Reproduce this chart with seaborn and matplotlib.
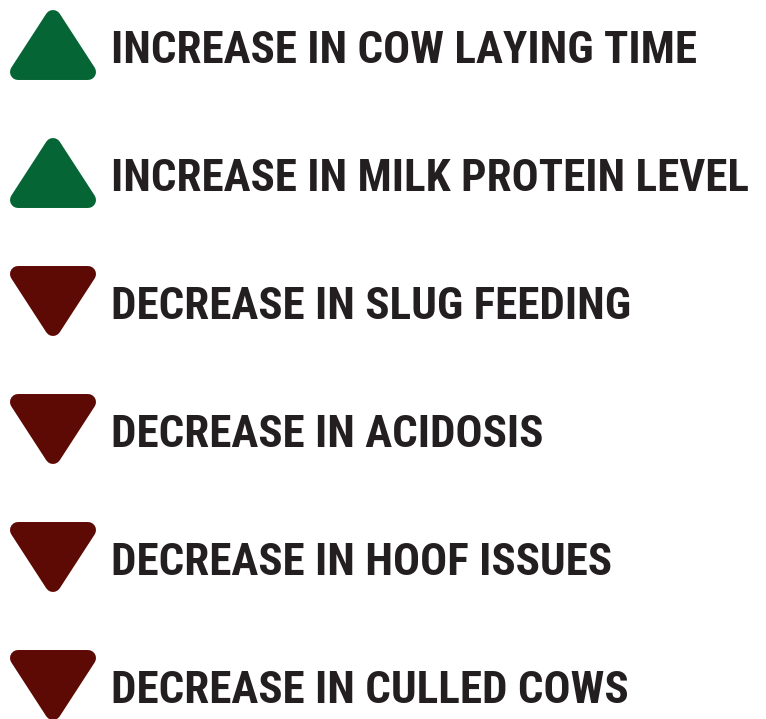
import matplotlib
matplotlib.use("Agg")
import matplotlib.pyplot as plt
from matplotlib.path import Path
from matplotlib.markers import MarkerStyle
import pandas as pd
import seaborn as sns

# chart content
labels = [
    "INCREASE IN COW LAYING TIME",
    "INCREASE IN MILK PROTEIN LEVEL",
    "DECREASE IN SLUG FEEDING",
    "DECREASE IN ACIDOSIS",
    "DECREASE IN HOOF ISSUES",
    "DECREASE IN CULLED COWS",
]
direction = ["up", "up", "down", "down", "down", "down"]

colors = {"up": "#066535", "down": "#5e0a04"}
text_color = "#231f20"

W, H, DPI = 766, 719, 100
row_gap = 128.0      # px between rows
first_row = 45.0     # px, centre of first row
text_x = 111
longest_px = 636     # width of the longest label in the reference

sns.set_theme(style="white")
plt.rcParams["font.family"] = ["Roboto Condensed", "DejaVu Sans"]

df = pd.DataFrame({"label": labels, "direction": direction, "row": range(len(labels))})
df["x"] = 53  # triangle column

# rounded triangles: fill + thick round-joined edge of same colour
r = 0.771
up = MarkerStyle(Path([(0, r), (-1, -r), (1, -r), (0, r)], closed=True), joinstyle="round")
down = MarkerStyle(Path([(0, -r), (-1, r), (1, r), (0, -r)], closed=True), joinstyle="round")

fig = plt.figure(figsize=(W / DPI, H / DPI), dpi=DPI)
ax = fig.add_axes([0, 0, 1, 1])

sns.scatterplot(data=df, x="x", y="row", hue="direction", style="direction",
                palette=colors, markers={"up": up, "down": down},
                s=(70 * 0.72) ** 2, linewidth=16 * 0.72, edgecolor="face",
                legend=False, ax=ax)
for c in ax.collections:
    c.set_joinstyle("round")

cap_half = 18 / row_gap
texts = []
for _, row in df.iterrows():
    t = ax.text(text_x, row["row"] + cap_half, row["label"], ha="left", va="baseline",
                fontsize=36, fontweight="bold", fontstretch="condensed", color=text_color)
    texts.append(t)

ax.set_xlim(0, W)
ax.set_ylim((H - first_row) / row_gap, -first_row / row_gap)
ax.axis("off")

# shrink the type if the font in use runs wider than the reference
renderer = fig.canvas.get_renderer()
widest = max(t.get_window_extent(renderer).width for t in texts)
if widest > longest_px:
    for t in texts:
        t.set_fontsize(36 * longest_px / widest)

fig.savefig("out.png", dpi=DPI, facecolor="white")
